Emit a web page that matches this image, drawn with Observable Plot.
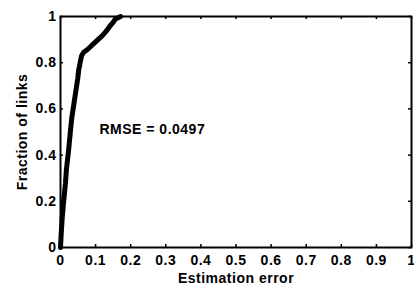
<!DOCTYPE html>
<html>
<head>
<meta charset="utf-8">
<script src="https://cdn.jsdelivr.net/npm/d3@7"></script>
<script src="https://cdn.jsdelivr.net/npm/@observablehq/plot@0.6"></script>
<style>
  html, body { margin: 0; padding: 0; background: #fff; }
  #chart { width: 414px; height: 284px; }
  #chart svg text { font-family: 'Liberation Sans', Arial, sans-serif !important; font-weight: bold !important; font-size: 14px !important; letter-spacing: 0.5px; }
</style>
</head>
<body>
<div id="chart"></div>
<script>
// Estimation error (x) vs cumulative fraction of links (y)
const estimationError = [0, 0.002, 0.005, 0.009, 0.014, 0.017, 0.020, 0.023, 0.028, 0.032, 0.037, 0.041, 0.045, 0.049, 0.052, 0.056, 0.060, 0.066, 0.076, 0.083, 0.090, 0.100, 0.109, 0.118, 0.128, 0.135, 0.142, 0.150, 0.157, 0.165, 0.171];
const fractionOfLinks = [0, 0.06, 0.13, 0.20, 0.277, 0.34, 0.38, 0.42, 0.50, 0.56, 0.61, 0.65, 0.69, 0.73, 0.77, 0.80, 0.83, 0.845, 0.856, 0.866, 0.876, 0.89, 0.903, 0.915, 0.932, 0.945, 0.961, 0.975, 0.99, 0.995, 1.0];

const xTicks = [0, 0.1, 0.2, 0.3, 0.4, 0.5, 0.6, 0.7, 0.8, 0.9, 1];
const yTicks = [0, 0.2, 0.4, 0.6, 0.8, 1];
const xLabel = "Estimation error";
const yLabel = "Fraction of links";
const annotations = [{x: 0.111, y: 0.51, label: "RMSE = 0.0497"}];

const data = estimationError.map((e, i) => ({e, f: fractionOfLinks[i]}));

const W = 414, H = 284;
const mT = 16, mB = 37, mL = 60, mR = 3;
const innerH = H - mT - mB;
const innerW = W - mL - mR;
const tickLen = 3;

const chart = Plot.plot({
  width: W,
  height: H,
  marginTop: mT,
  marginBottom: mB,
  marginLeft: mL,
  marginRight: mR,
  style: {fontFamily: "'Liberation Sans', Arial, sans-serif", fontSize: "14px", fontWeight: "bold", color: "black", background: "white"},
  x: {domain: [0, 1]},
  y: {domain: [0, 1]},
  marks: [
    Plot.line(data, {x: "e", y: "f", stroke: "black", strokeWidth: 5, strokeLinejoin: "round"}),
    Plot.tickX(xTicks, {x: d => d, insetTop: innerH - tickLen, stroke: "black", strokeWidth: 1.5}),
    Plot.tickX(xTicks, {x: d => d, insetBottom: innerH - tickLen, stroke: "black", strokeWidth: 1.5}),
    Plot.tickY(yTicks, {y: d => d, insetRight: innerW - tickLen, stroke: "black", strokeWidth: 1.5}),
    Plot.tickY(yTicks, {y: d => d, insetLeft: innerW - tickLen, stroke: "black", strokeWidth: 1.5}),
    Plot.frame({stroke: "black", strokeWidth: 2}),
    Plot.axisX({ticks: xTicks, tickSize: 0, tickPadding: 8, tickFormat: d => String(d), fontSize: 14,
      label: xLabel, labelAnchor: "center", labelArrow: "none", labelOffset: 35}),
    Plot.axisY({ticks: yTicks, tickSize: 0, tickPadding: 4, tickFormat: d => String(d), fontSize: 14,
      label: yLabel, labelAnchor: "center", labelArrow: "none", labelOffset: 43}),
    Plot.text(annotations, {x: "x", y: "y", text: "label", textAnchor: "start", fontSize: 14, fill: "black"})
  ]
});
document.getElementById("chart").appendChild(chart);
</script>
</body>
</html>
